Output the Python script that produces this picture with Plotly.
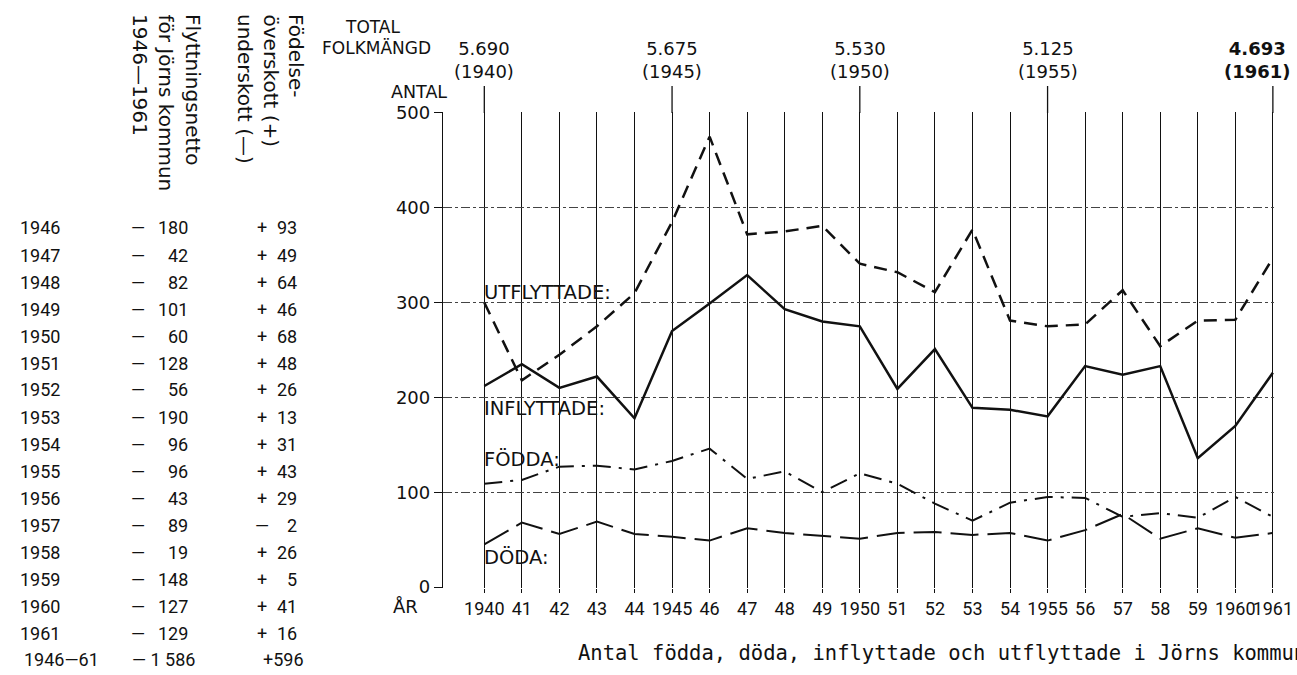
import plotly.graph_objects as go

# === Data
years = list(range(1940, 1962))
year_labels = ["1940", "41", "42", "43", "44", "1945", "46", "47", "48", "49",
               "1950", "51", "52", "53", "54", "1955", "56", "57", "58", "59",
               "1960", "1961"]

utflyttade = [300, 218, 245, 275, 310, 385, 475, 372, 375, 381, 341, 332,
              311, 377, 281, 275, 277, 313, 254, 281, 282, 347]
inflyttade = [212, 235, 210, 222, 178, 270, 299, 329, 293, 280, 275, 209,
              251, 189, 187, 180, 233, 224, 233, 136, 170, 226]
fodda = [109, 113, 127, 128, 124, 133, 146, 114, 122, 100, 120, 109,
         88, 70, 89, 95, 94, 74, 78, 73, 95, 74]
doda = [45, 68, 56, 69, 56, 53, 49, 62, 57, 54, 51, 57,
        58, 55, 57, 49, 60, 77, 51, 62, 52, 57]

pop_years = [1940, 1945, 1950, 1955, 1961]
pop_values = ["5.690", "5.675", "5.530", "5.125", "4.693"]

table_years = ["1946", "1947", "1948", "1949", "1950", "1951", "1952", "1953",
               "1954", "1955", "1956", "1957", "1958", "1959", "1960", "1961"]
netto = ["180", "42", "82", "101", "60", "128", "56", "190",
         "96", "96", "43", "89", "19", "148", "127", "129"]
fodsel_sign = ["+", "+", "+", "+", "+", "+", "+", "+",
               "+", "+", "+", "—", "+", "+", "+", "+"]
fodsel = ["93", "49", "64", "46", "68", "48", "26", "13",
          "31", "43", "29", "2", "26", "5", "41", "16"]
total_label, total_netto, total_fodsel = "1946—61", "— 1 586", "+596"

W, H = 1297, 675


def px(x):
    return x / W


def py(y):
    return 1 - y / H


INK = "#111111"
GEO = "DejaVu Sans"
NARROW = "Roboto"

fig = go.Figure()

series = [
    (utflyttade, "Utflyttade", dict(color=INK, width=2.5, dash="13px,8px")),
    (inflyttade, "Inflyttade", dict(color=INK, width=2.5)),
    (fodda, "Födda", dict(color=INK, width=2, dash="18px,8px,3px,8px")),
    (doda, "Döda", dict(color=INK, width=2, dash="28px,9px")),
]
for vals, name, line in series:
    fig.add_trace(go.Scatter(x=years, y=vals, mode="lines", name=name,
                             line=line, showlegend=False))

ann = []

# series labels inside the plot
for text, yv in [("UTFLYTTADE:", 311), ("INFLYTTADE:", 188),
                 ("FÖDDA:", 135), ("DÖDA:", 31)]:
    ann.append(dict(x=1939.95, y=yv, xref="x", yref="y", text=text,
                    showarrow=False, xanchor="left", yanchor="middle",
                    font=dict(family=GEO, size=19.5, color=INK)))

# total population on top
for yr, val in zip(pop_years, pop_values):
    a = dict(x=yr, y=py(60), xref="x", yref="paper",
             text=f"{val}<br>({yr})", showarrow=False, xanchor="center",
             yanchor="middle", font=dict(family=GEO, size=18, color=INK))
    if yr == pop_years[-1]:
        a.update(text=f"<b>{val}<br>({yr})</b>", x=px(1293), xref="paper",
                 xanchor="right")
    ann.append(a)
shapes = [dict(type="line", xref="x", yref="paper", x0=yr, x1=yr,
               y0=py(113), y1=py(86), line=dict(color=INK, width=1.3))
          for yr in pop_years]

extra = [
    dict(x=px(402), y=py(27), text="TOTAL", xanchor="right", size=17),
    dict(x=px(376), y=py(48), text="FOLKMÄNGD", xanchor="center", size=17),
    dict(x=px(419), y=py(92), text="ANTAL", xanchor="center", size=17.5),
    dict(x=px(406), y=py(606), text="ÅR", xanchor="center", size=18),
]
for a in extra:
    a.update(xref="paper", yref="paper", showarrow=False, yanchor="middle",
             font=dict(family=GEO, size=a.pop("size"), color=INK))
ann += extra

# rotated table headers
headers = [("Födelse-", 296), ("överskott (+)", 271), ("underskott (—)", 245),
           ("Flyttningsnetto", 193), ("för Jörns kommun", 166),
           ("1946—1961", 140)]
for text, xc in headers:
    ann.append(dict(x=px(xc), y=py(12), xref="paper", yref="paper", text=text,
                    textangle=90, showarrow=False, xanchor="center",
                    yanchor="top", font=dict(family=GEO, size=20, color=INK)))

# table rows
tf = dict(family=NARROW, size=18, color=INK)
for i, yr in enumerate(table_years):
    yy = py(228 + i * 27)
    row = [
        dict(x=px(18), text=yr, xanchor="left"),
        dict(x=px(138), text="—", xanchor="center"),
        dict(x=px(190), text=netto[i], xanchor="right"),
        dict(x=px(262), text=fodsel_sign[i], xanchor="center"),
        dict(x=px(299), text=fodsel[i], xanchor="right"),
    ]
    for a in row:
        a.update(y=yy, xref="paper", yref="paper", showarrow=False,
                 yanchor="middle", font=tf)
    ann += row
for x, text, anchor in [(22, total_label, "left"), (197, total_netto, "right"),
                        (306, total_fodsel, "right")]:
    ann.append(dict(x=px(x), y=py(659), text=text, xanchor=anchor,
                    xref="paper", yref="paper", showarrow=False,
                    yanchor="middle", font=tf))

# caption
ann.append(dict(x=px(576), y=py(653), xref="paper", yref="paper",
                text="Antal födda, döda, inflyttade och utflyttade i Jörns kommun",
                showarrow=False, xanchor="left", yanchor="middle",
                font=dict(family="DejaVu Sans Mono", size=20.5, color=INK)))

fig.update_layout(
    width=W, height=H,
    margin=dict(l=0, r=0, t=0, b=0, autoexpand=False),
    paper_bgcolor="white", plot_bgcolor="white",
    annotations=ann, shapes=shapes,
    xaxis=dict(domain=[px(443), px(1274)], range=[1938.9, 1961.03],
               tickvals=years, ticktext=year_labels, tickangle=0,
               showgrid=True, gridcolor=INK, gridwidth=1, zeroline=False,
               ticks="outside", ticklen=4, tickcolor=INK, automargin=False,
               tickfont=dict(family=NARROW, size=18, color=INK),
               showline=False),
    yaxis=dict(domain=[py(588), py(112)], range=[-1, 501],
               tickvals=[0, 100, 200, 300, 400, 500], automargin=False,
               showgrid=True, gridcolor="#444444", gridwidth=1,
               griddash="dashdot", zeroline=False,
               showline=True, linecolor=INK, linewidth=1.3,
               ticks="outside", ticklen=8, tickcolor=INK,
               tickfont=dict(family=GEO, size=18, color=INK)),
)

# drop the browser's default page margin so the figure sits at the corner
fig.write_html("out.html", config={"displayModeBar": False},
               post_script="document.body.style.margin='0px';")
